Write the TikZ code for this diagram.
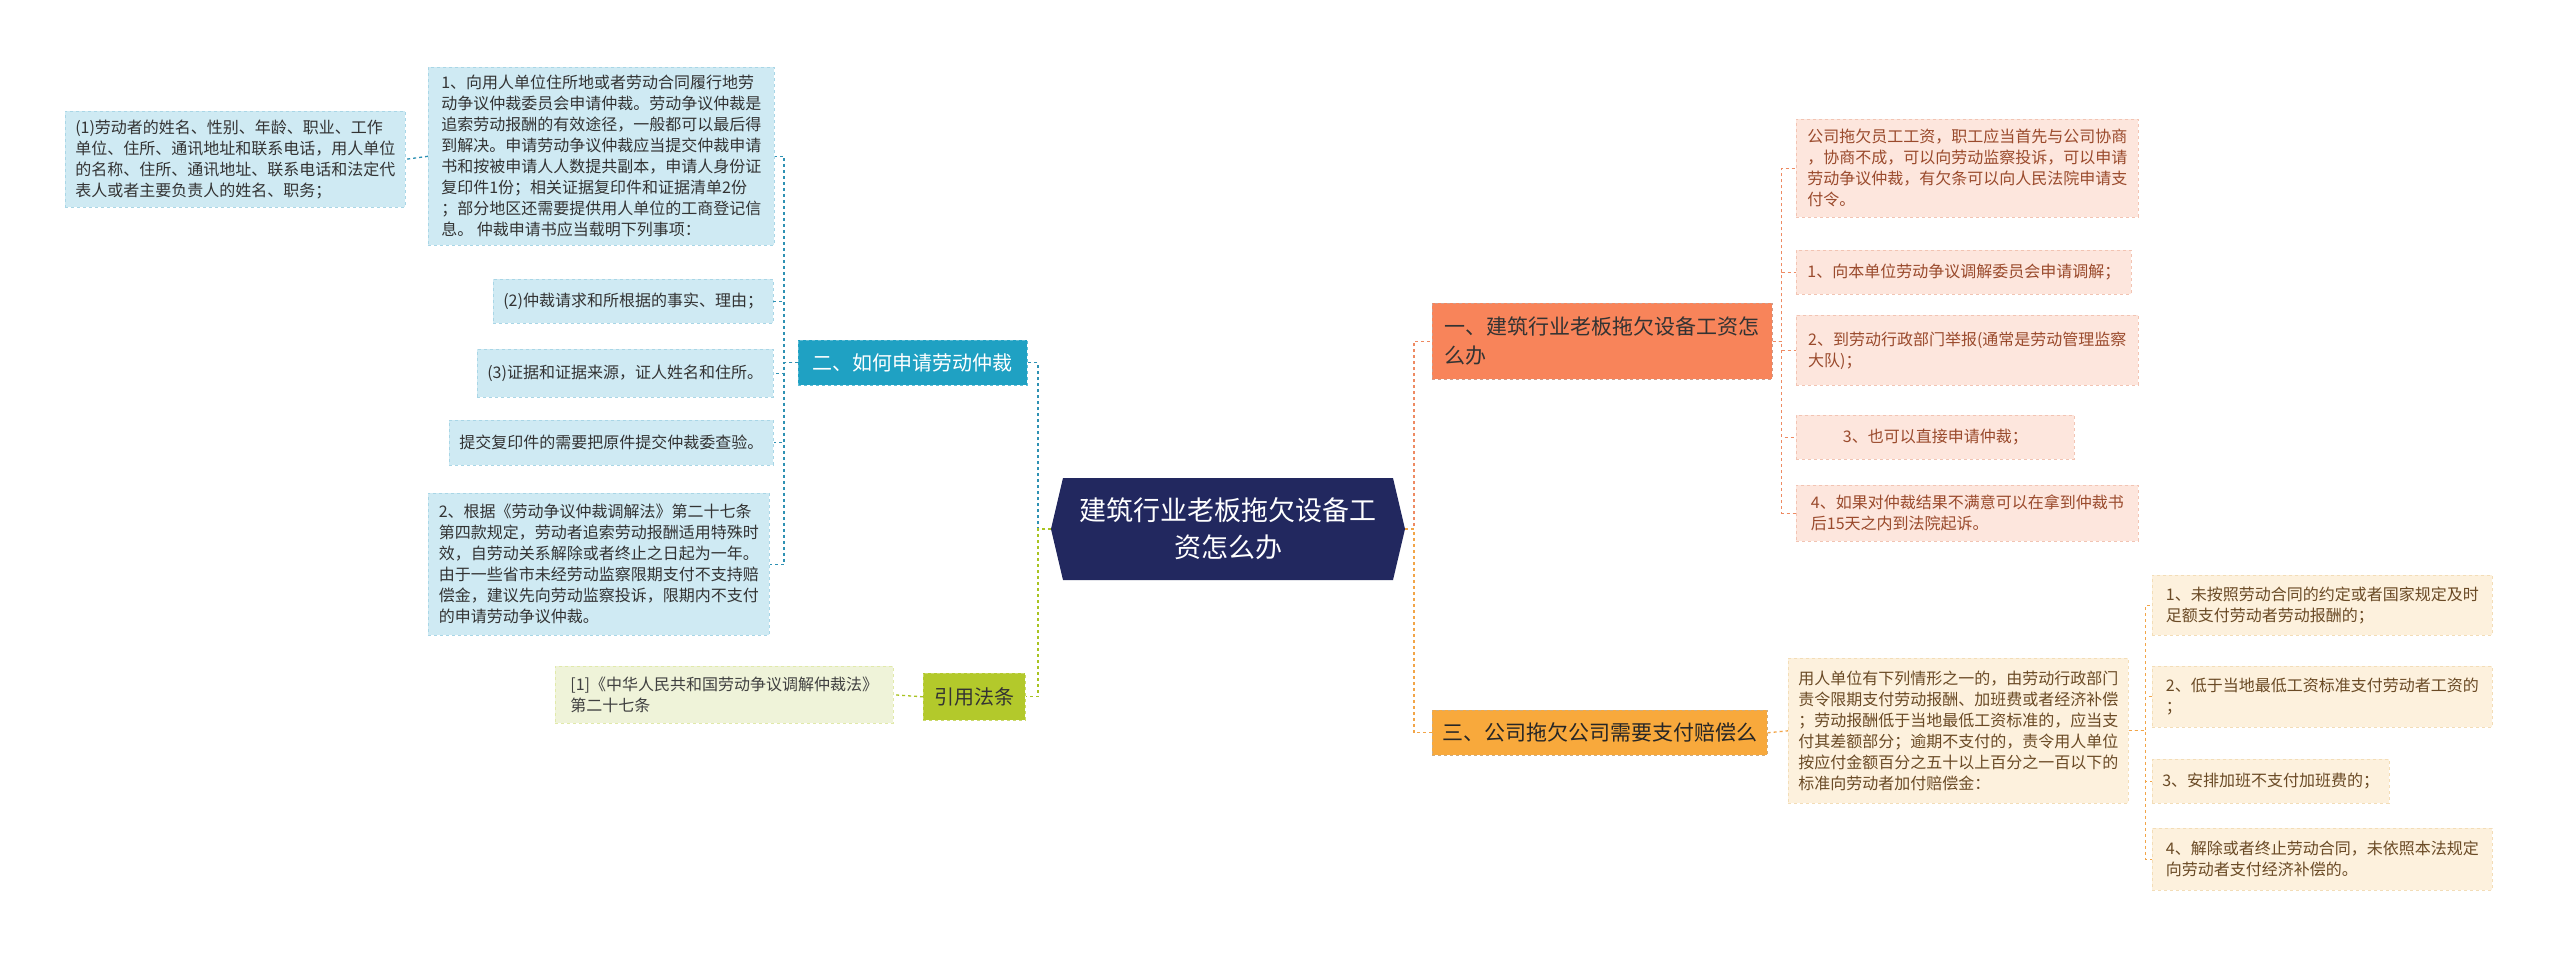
\documentclass[tikz,border=0pt]{standalone}
\usepackage{fontspec}
\setmainfont{Noto Sans CJK SC}
\definecolor{bluef}{HTML}{CFEAF3}
\definecolor{blued}{HTML}{A9D6E6}
\definecolor{tealc}{HTML}{2E91B3}
\definecolor{tealb}{HTML}{1FA1C3}
\definecolor{greenb}{HTML}{B3C92B}
\definecolor{greenf}{HTML}{EFF3D9}
\definecolor{greenl}{HTML}{A9C321}
\definecolor{navy}{HTML}{22285F}
\definecolor{salmon}{HTML}{F8845A}
\definecolor{pinkf}{HTML}{FDE6DD}
\definecolor{pinkd}{HTML}{F2C4B3}
\definecolor{pinkt}{HTML}{9A4A2C}
\definecolor{orangel}{HTML}{EE8A62}
\definecolor{orangeb}{HTML}{F8A93C}
\definecolor{beigef}{HTML}{FDF1DD}
\definecolor{beiged}{HTML}{F3DDB7}
\definecolor{beiget}{HTML}{6A4A25}
\definecolor{oline}{HTML}{F2A548}
\tikzset{
  base/.style={anchor=north west,align=left,inner xsep=10pt,inner ysep=6pt,dashed,line width=0.6pt},
  blueleaf/.style={base,fill=bluef,draw=blued,text=black!80,font=\fontsize{16}{21}\selectfont},
  pinkleaf/.style={base,fill=pinkf,draw=pinkd,text=pinkt,font=\fontsize{16}{21}\selectfont},
  beigeleaf/.style={base,fill=beigef,draw=beiged,text=beiget,font=\fontsize{16}{21}\selectfont},
  greenleaf/.style={base,fill=greenf,draw=greenb!40,text=black!75,font=\fontsize{16}{21}\selectfont},
  branch/.style={base,font=\fontsize{20}{27}\selectfont},
  tealcon/.style={draw=tealc,dashed,line width=1.3pt},
  greencon/.style={draw=greenl,dashed,line width=1.3pt},
  orcon/.style={draw=orangel,dashed,line width=1.3pt},
  yecon/.style={draw=oline,dashed,line width=1.3pt},
}
\begin{document}
\begin{tikzpicture}[x=1pt,y=-1pt]
\fill[white] (0,0) rectangle (2560,956);
\useasboundingbox (0,0) rectangle (2560,956);
% center
\fill[navy] (1063,478) -- (1393,478) -- (1405,529) -- (1393,580) -- (1063,580) -- (1051,529) -- cycle;
\node[text=white,align=center,font=\fontsize{27}{37}\selectfont] (c) at (1228,529) {建筑行业老板拖欠设备工\\资怎么办};
\coordinate (cw) at (1051,529);
\coordinate (ce) at (1405,529);
% left branches
\node[branch,fill=tealb,draw=tealb!70,text=white,minimum width=229pt,minimum height=45pt] (b2) at (798,340) {二、如何申请劳动仲裁};
\node[branch,fill=greenb,draw=greenb!70,text=black!80,minimum width=102pt,minimum height=47pt] (bl) at (923,673) {引用法条};
\node[greenleaf,minimum width=338pt,minimum height=57pt] (g1) at (555,666) {[1]《中华人民共和国劳动争议调解仲裁法》\\第二十七条};
\node[blueleaf,minimum width=346pt,minimum height=178pt] (l1) at (428,67) {1、向用人单位住所地或者劳动合同履行地劳\\动争议仲裁委员会申请仲裁。劳动争议仲裁是\\追索劳动报酬的有效途径，一般都可以最后得\\到解决。申请劳动争议仲裁应当提交仲裁申请\\书和按被申请人人数提共副本，申请人身份证\\复印件1份；相关证据复印件和证据清单2份\\；部分地区还需要提供用人单位的工商登记信\\息。 仲裁申请书应当载明下列事项：};
\node[blueleaf,minimum width=340pt,minimum height=96pt] (l11) at (65,111) {(1)劳动者的姓名、性别、年龄、职业、工作\\单位、住所、通讯地址和联系电话，用人单位\\的名称、住所、通讯地址、联系电话和法定代\\表人或者主要负责人的姓名、职务；};
\node[blueleaf,minimum width=278pt,minimum height=44pt] (l2) at (493,279) {(2)仲裁请求和所根据的事实、理由；};
\node[blueleaf,minimum width=294pt,minimum height=48pt] (l3) at (477,349) {(3)证据和证据来源，证人姓名和住所。};
\node[blueleaf,minimum width=322pt,minimum height=45pt] (l4) at (449,420) {提交复印件的需要把原件提交仲裁委查验。};
\node[blueleaf,minimum width=341pt,minimum height=142pt] (l5) at (428,493) {2、根据《劳动争议仲裁调解法》第二十七条\\第四款规定，劳动者追索劳动报酬适用特殊时\\效，自劳动关系解除或者终止之日起为一年。\\由于一些省市未经劳动监察限期支付不支持赔\\偿金，建议先向劳动监察投诉，限期内不支付\\的申请劳动争议仲裁。};
% right branches
\node[branch,fill=salmon,draw=salmon!70!black!60,text=black!80,minimum width=340pt,minimum height=76pt,font=\fontsize{21}{29}\selectfont] (r1) at (1432,303) {一、建筑行业老板拖欠设备工资怎\\么办};
\node[branch,fill=orangeb,draw=orangeb!70!black!60,text=black!85,minimum width=327pt,minimum height=45pt,font=\fontsize{21}{29}\selectfont] (r3) at (1432,710) {三、公司拖欠公司需要支付赔偿么};
\node[pinkleaf,minimum width=342pt,minimum height=98pt] (p0) at (1796,119) {公司拖欠员工工资，职工应当首先与公司协商\\，协商不成，可以向劳动监察投诉，可以申请\\劳动争议仲裁，有欠条可以向人民法院申请支\\付令。};
\node[pinkleaf,minimum width=335pt,minimum height=44pt] (p1) at (1796,250) {1、向本单位劳动争议调解委员会申请调解；};
\node[pinkleaf,minimum width=342pt,minimum height=70pt] (p2) at (1796,315) {2、到劳动行政部门举报(通常是劳动管理监察\\大队)；};
\node[pinkleaf,minimum width=278pt,minimum height=44pt] (p3) at (1796,415) {3、也可以直接申请仲裁；};
\node[pinkleaf,minimum width=342pt,minimum height=56pt] (p4) at (1796,485) {4、如果对仲裁结果不满意可以在拿到仲裁书\\后15天之内到法院起诉。};
\node[beigeleaf,minimum width=339pt,minimum height=145pt] (m) at (1788,658) {用人单位有下列情形之一的，由劳动行政部门\\责令限期支付劳动报酬、加班费或者经济补偿\\；劳动报酬低于当地最低工资标准的，应当支\\付其差额部分；逾期不支付的，责令用人单位\\按应付金额百分之五十以上百分之一百以下的\\标准向劳动者加付赔偿金：};
\node[beigeleaf,minimum width=340pt,minimum height=60pt] (q1) at (2152,575) {1、未按照劳动合同的约定或者国家规定及时\\足额支付劳动者劳动报酬的；};
\node[beigeleaf,minimum width=340pt,minimum height=61pt] (q2) at (2152,666) {2、低于当地最低工资标准支付劳动者工资的\\；};
\node[beigeleaf,minimum width=235pt,minimum height=44pt] (q3) at (2152,759) {3、安排加班不支付加班费的；};
\node[beigeleaf,minimum width=340pt,minimum height=62pt] (q4) at (2152,828) {4、解除或者终止劳动合同，未依照本法规定\\向劳动者支付经济补偿的。};
% connectors
\draw[tealcon] (cw) -- ++(-13,0) |- (b2.east);
\draw[greencon] (cw) -- ++(-13,0) |- (bl.east);
\draw[greencon] (bl.west) -- (g1.east);
\foreach \n in {l1,l2,l3,l4,l5} \draw[tealcon] (b2.west) -- ++(-14,0) |- (\n.east);
\draw[tealcon] (l1.west) -- (l11.east);
\draw[orcon] (ce) -- ++(9,0) |- (r1.west);
\draw[yecon] (ce) -- ++(9,0) |- (r3.west);
\foreach \n in {p0,p1,p2,p3,p4} \draw[orcon] (r1.east) -- ++(9,0) |- (\n.west);
\draw[yecon] (r3.east) -- (m.west);
\foreach \n in {q1,q2,q3,q4} \draw[yecon] (m.east) -- ++(17,0) |- (\n.west);
\end{tikzpicture}
\end{document}
